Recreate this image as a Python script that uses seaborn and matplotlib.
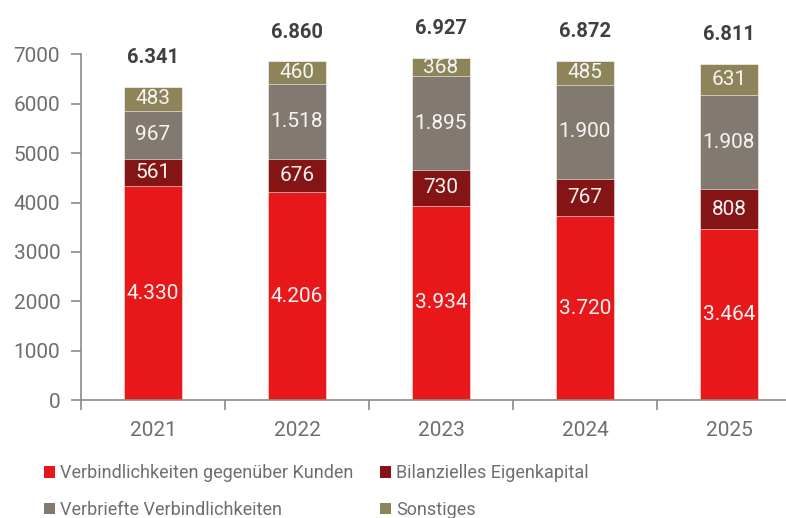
import pandas as pd
import numpy as np
import matplotlib
matplotlib.use("Agg")
import matplotlib.pyplot as plt
from matplotlib.patches import Patch
import seaborn as sns

# Daten (Mio. EUR)
years = ["2021", "2022", "2023", "2024", "2025"]
kunden = [4330, 4206, 3934, 3720, 3464]
eigenkapital = [561, 676, 730, 767, 808]
verbriefte = [967, 1518, 1895, 1900, 1908]
sonstiges = [483, 460, 368, 485, 631]

series_names = [
    "Verbindlichkeiten gegenüber Kunden",
    "Bilanzielles Eigenkapital",
    "Verbriefte Verbindlichkeiten",
    "Sonstiges",
]
colors = ["#e8171a", "#851414", "#827a70", "#8e8459"]
tick_color = "#6e6e6e"
spine_color = "#8f8a84"


def fmt(v):
    return f"{v:,}".replace(",", ".")


def main():
    sns.set_theme(style="white")
    plt.rcParams["font.family"] = ["Roboto", "DejaVu Sans"]

    df = pd.DataFrame({
        "Jahr": years,
        series_names[0]: kunden,
        series_names[1]: eigenkapital,
        series_names[2]: verbriefte,
        series_names[3]: sonstiges,
    })
    values = df[series_names].to_numpy()
    cum = np.cumsum(values, axis=1)

    fig = plt.figure(figsize=(7.86, 5.18), dpi=100)
    ax = fig.add_axes([81 / 786, 1 - 400 / 518, 720 / 786, (400 - 54.5) / 518])

    # gestapelte Balken: oberste Summe zuerst zeichnen
    for k in range(len(series_names) - 1, -1, -1):
        sns.barplot(x=df["Jahr"], y=cum[:, k], color=colors[k], width=0.4,
                    saturation=1, edgecolor="white", linewidth=0.4, ax=ax)

    # Segmentwerte
    for i in range(len(years)):
        bottom = 0
        for k in range(len(series_names)):
            v = values[i, k]
            ax.text(i, bottom + v / 2, fmt(v), ha="center", va="center",
                    fontsize=15, color="#f4f4f4")
            bottom += v
        ax.annotate(fmt(cum[i, -1]), (i, cum[i, -1]), xytext=(0, 21),
                    textcoords="offset points", ha="center", va="center",
                    fontsize=14.5, fontweight="bold", color="#404040",
                    annotation_clip=False)

    ax.set_xlim(-0.5, 4.5)
    ax.set_ylim(0, 7000)
    ax.set_yticks(range(0, 7001, 1000))
    ax.set_xticks(range(len(years)))
    ax.set_xticklabels(years)
    ax.set_xticks(np.arange(-0.5, 4.6, 1), minor=True)
    ax.set_xlabel("")
    ax.set_ylabel("")

    for s in ["top", "right"]:
        ax.spines[s].set_visible(False)
    for s in ["left", "bottom"]:
        ax.spines[s].set_color(spine_color)
        ax.spines[s].set_linewidth(1.2)

    ax.tick_params(axis="y", which="major", left=True, length=7, width=1.2,
                   color=spine_color, labelsize=15, labelcolor=tick_color, pad=8)
    ax.tick_params(axis="x", which="major", bottom=False, labelsize=15,
                   labelcolor=tick_color, pad=9)
    ax.tick_params(axis="x", which="minor", bottom=True, length=7, width=1.2,
                   color=spine_color)

    # Legende unten, zwei Spalten
    order = [0, 2, 1, 3]
    handles = [Patch(facecolor=colors[k], edgecolor="none") for k in order]
    labels = [series_names[k] for k in order]
    leg = fig.legend(handles, labels, ncol=2, loc="upper left",
                     bbox_to_anchor=(37 / 786, 1 - 457 / 518), frameon=False,
                     fontsize=13, handlelength=0.6, handleheight=0.6,
                     handletextpad=0.3, columnspacing=1.45, labelspacing=1.02,
                     borderaxespad=0)
    for t in leg.get_texts():
        t.set_color(tick_color)

    fig.savefig("out.png", dpi=100)
    plt.close(fig)


if __name__ == "__main__":
    main()
